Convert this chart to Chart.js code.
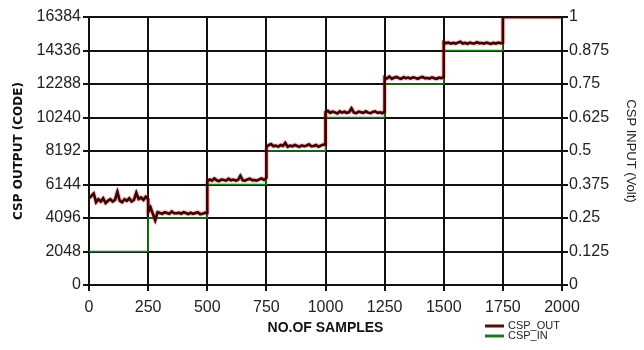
<!DOCTYPE html>
<html><head><meta charset="utf-8">
<script src="https://cdn.jsdelivr.net/npm/chart.js@4/dist/chart.umd.min.js"></script>
<style>html,body{margin:0;padding:0;background:#fff}#wrap{width:644px;height:350px}</style>
</head><body><div id="wrap"><canvas id="c" width="644" height="350"></canvas></div>
<script>
// ---- data ----
const xTicks = [0,250,500,750,1000,1250,1500,1750,2000];
const leftTicks = [0,2048,4096,6144,8192,10240,12288,14336,16384];
const rightTicks = [0,0.125,0.25,0.375,0.5,0.625,0.75,0.875,1];
const stepStarts = [0,250,500,750,1000,1250,1500,1750];
const sampleStep = 10;
// CSP_IN (Volt), one level per step
const cspInLevels = [0.125,0.25,0.375,0.5,0.625,0.75,0.875,1];
// CSP_OUT (code), read every 10 samples in each step
const out1 = [5300,5450,5600,5050,5250,5100,5300,5000,5150,5250,5100,5200,5700,5150,5050,5250,5150,5300,5100,5200,5650,5250,5350,5200,5400,5250];
const out2 = [4450,4750,4350,3950,4450,4400,4350,4450,4400,4350,4500,4380,4380,4420,4350,4450,4400,4330,4420,4350,4400,4450,4330,4350,4420,4400];
const out3 = [6350,6450,6380,6520,6400,6350,6450,6420,6380,6500,6400,6450,6380,6420,6680,6400,6380,6450,6500,6400,6420,6380,6450,6520,6420,6550];
const out4 = [8450,8550,8620,8480,8520,8450,8560,8500,8700,8450,8520,8480,8560,8500,8450,8540,8480,8520,8600,8480,8500,8560,8450,8520,8580,8600];
const out5 = [10580,10650,10520,10600,10550,10480,10620,10540,10600,10520,10560,10800,10540,10500,10600,10560,10520,10620,10540,10500,10580,10620,10520,10560,10500,10600];
const out6 = [12700,12620,12750,12600,12680,12720,12650,12600,12700,12640,12680,12620,12700,12660,12600,12680,12720,12640,12660,12620,12700,12640,12600,12680,12640,12700];
const out7 = [14850,14780,14820,14750,14800,14760,14820,14880,14760,14800,14740,14820,14780,14760,14840,14780,14800,14760,14820,14780,14740,14800,14760,14820,14780,14800];
const out8 = [16384,16384];

// ---- build ----
const outSegs = [out1,out2,out3,out4,out5,out6,out7];
const outPts = [];
outSegs.forEach((seg,s)=>seg.forEach((v,i)=>outPts.push({x:stepStarts[s]+i*sampleStep,y:v})));
outPts.push({x:1750,y:out8[0]},{x:2000,y:out8[1]});
const inPts = cspInLevels.map((v,i)=>({x:stepStarts[i],y:v}));
inPts.push({x:2000,y:cspInLevels[cspInLevels.length-1]});

const FONT = "'Liberation Sans Narrow','Arial Narrow','Liberation Sans',sans-serif";
const OUT_COLOR = '#3a0404';
const IN_COLOR = '#1d7a1d';

const legendPlugin = {
  id:'miniLegend',
  beforeDatasetDraw(chart,args){
    if(args.index===0){chart.ctx.save();chart.ctx.shadowColor='rgba(190,20,20,0.9)';chart.ctx.shadowBlur=2;}
  },
  afterDatasetDraw(chart,args){
    if(args.index===0){chart.ctx.restore();}
  },
  afterDraw(chart){
    const ctx = chart.ctx;
    ctx.save();
    const items = [[chart.data.datasets[0].label, '#5a0808', 326],[chart.data.datasets[1].label, IN_COLOR, 336]];
    items.forEach(([t,c,y])=>{
      ctx.strokeStyle=c; ctx.lineWidth=3;
      ctx.beginPath(); ctx.moveTo(485,y); ctx.lineTo(504,y); ctx.stroke();
      ctx.fillStyle='#222'; ctx.font="11px "+FONT; ctx.textBaseline='middle'; ctx.textAlign='left';
      ctx.fillText(t,508,y);
    });
    ctx.restore();
  }
};

new Chart(document.getElementById('c'),{
  type:'line',
  data:{datasets:[
    {label:'CSP_OUT',data:outPts,yAxisID:'y',borderColor:OUT_COLOR,borderWidth:2.5,pointRadius:0,tension:0,order:1},
    {label:'CSP_IN',data:inPts,yAxisID:'y1',borderColor:IN_COLOR,borderWidth:1.5,pointRadius:0,stepped:'before',order:2}
  ]},
  options:{
    responsive:false,animation:false,
    layout:{padding:{top:17,left:0,right:0,bottom:0}},
    plugins:{legend:{display:false},tooltip:{enabled:false}},
    scales:{
      x:{type:'linear',min:0,max:2000,
        afterBuildTicks(s){s.ticks=xTicks.map(v=>({value:v}));},
        afterFit(s){s.height=65;},
        grid:{color:'#111',lineWidth:2,tickLength:6,tickColor:'#111'},
        border:{color:'#111',width:2},
        ticks:{color:'#222',font:{family:FONT,size:16},padding:7,maxRotation:0,callback:v=>String(v)},
        title:{display:true,text:'NO.OF SAMPLES',color:'#111',font:{family:FONT,size:14,weight:'bold'},padding:{top:4,bottom:13}}
      },
      y:{position:'left',min:0,max:16384,
        afterBuildTicks(s){s.ticks=leftTicks.map(v=>({value:v}));},
        afterFit(s){s.width=89;},
        grid:{color:'#111',lineWidth:2,tickLength:6,tickColor:'#111'},
        border:{color:'#111',width:2},
        ticks:{color:'#222',font:{family:FONT,size:16},padding:2,callback:v=>String(v)},
        title:{display:true,text:'CSP OUTPUT (CODE)',color:'#111',font:{family:"'DejaVu Sans',sans-serif",size:12,weight:'bold'},padding:{top:12,bottom:0}}
      },
      y1:{position:'right',min:0,max:1,
        afterBuildTicks(s){s.ticks=rightTicks.map(v=>({value:v}));},
        afterFit(s){s.width=82;},
        grid:{drawOnChartArea:false,color:'#111',lineWidth:2,tickLength:6,tickColor:'#111'},
        border:{color:'#111',width:2},
        ticks:{color:'#222',font:{family:FONT,size:16},padding:1,callback:v=>String(v)},
        title:{display:true,text:'CSP INPUT (Volt)',color:'#222',font:{family:"'Liberation Sans',Arial,sans-serif",size:13},padding:{top:6,bottom:3}}
      }
    }
  },
  plugins:[legendPlugin]
});
</script></body></html>
